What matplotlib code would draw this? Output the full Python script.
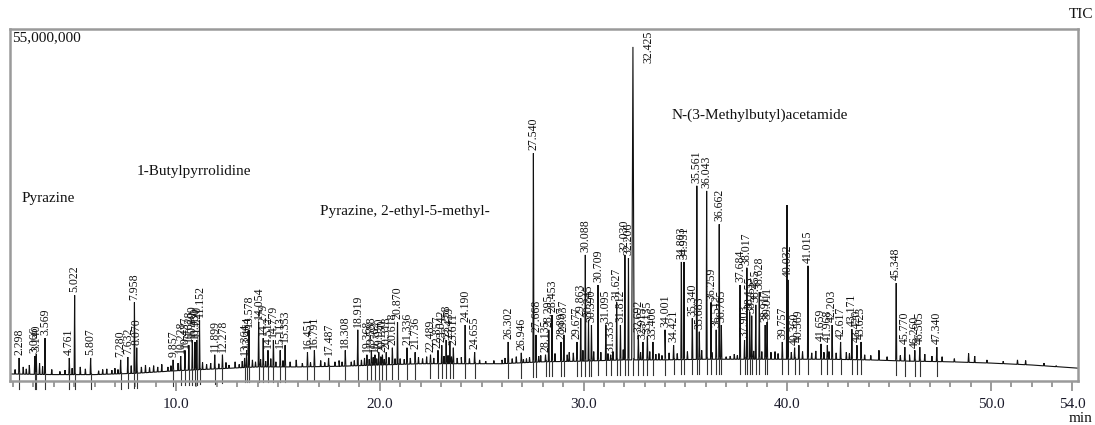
import numpy as np
import matplotlib
matplotlib.use("Agg")
import matplotlib.pyplot as plt

plt.rcParams['font.family'] = ['Liberation Serif', 'DejaVu Serif']

# ---------------- data (signal in millions of counts) ----------------
base_t = [1.85, 4, 6, 8, 10, 12, 14, 16, 18, 20, 22, 24, 26, 28, 30, 32, 34,
          36, 38, 40, 42, 44, 46, 48, 50, 52, 54.3]
base_val = [1.1, 1.0, 1.0, 1.2, 1.6, 1.9, 2.2, 2.2, 2.3, 2.5, 2.7, 2.7, 2.7,
            3.0, 3.1, 3.3, 3.3, 3.4, 3.4, 3.4, 3.4, 3.3, 3.1, 3.0, 2.8, 2.5, 2.0]

peak_rt = [2.298, 3.066, 3.140, 3.569, 4.761, 5.022, 5.807, 7.280, 7.632, 7.958,
           8.070, 9.857, 10.228, 10.437, 10.628, 10.800, 10.930, 11.020, 11.152,
           11.899, 12.278, 13.364, 13.464, 13.578, 14.054, 14.279, 14.512, 14.779,
           15.113, 15.353, 16.451, 16.791, 17.487, 18.308, 18.919, 19.368, 19.588,
           19.762, 19.950, 20.130, 20.318, 20.618, 20.870, 21.336, 21.736, 22.489,
           22.857, 23.042, 23.258, 23.439, 23.611, 24.190, 24.655, 26.302, 26.946,
           27.540, 27.668, 28.135, 28.295, 28.453, 28.897, 29.037, 29.677, 29.863,
           30.088, 30.245, 30.390, 30.709, 31.095, 31.333, 31.627, 31.812, 32.030,
           32.206, 32.425, 32.692, 32.915, 33.135, 33.406, 34.001, 34.421, 34.803,
           34.931, 35.340, 35.561, 35.683, 36.043, 36.259, 36.512, 36.662, 36.765,
           37.684, 37.903, 38.017, 38.155, 38.255, 38.455, 38.628, 38.917, 39.011,
           39.757, 40.032, 40.360, 40.569, 41.015, 41.659, 41.968, 42.203, 42.617,
           43.171, 43.420, 43.623, 45.348, 45.770, 46.260, 46.505, 47.340]
peak_h = [3.6, 3.9, 4.2, 6.7, 3.6, 13.4, 3.6, 3.3, 3.75, 12.3,
          5.2, 3.3, 3.9, 4.8, 5.6, 6.4, 6.1, 6.4, 9.5,
          4.1, 4.1, 3.6, 4.8, 8.0, 9.2, 6.7, 4.8, 6.4,
          4.8, 5.6, 4.5, 4.8, 3.6, 4.8, 8.0, 4.1, 4.8,
          4.1, 4.5, 4.1, 4.5, 5.2, 9.2, 5.2, 4.5, 4.1,
          4.8, 5.6, 6.4, 6.1, 5.2, 8.75, 4.5, 6.1, 4.4,
          35.6, 7.2, 4.1, 8.0, 10.3, 6.1, 7.2, 6.1, 9.8,
          19.7, 9.5, 8.75, 15.0, 8.75, 4.1, 12.3, 8.75, 19.7,
          19.2, 52.2, 7.2, 6.1, 7.0, 6.1, 8.0, 5.6, 18.6,
          18.6, 9.8, 30.5, 7.7, 29.7, 12.3, 8.0, 24.5, 8.75,
          15.0, 6.4, 17.7, 10.8, 10.2, 11.9, 13.9, 8.75, 9.2,
          6.1, 15.8, 5.2, 5.6, 18.0, 5.8, 5.6, 8.75, 6.1,
          8.1, 5.6, 6.1, 15.3, 5.3, 4.8, 5.3, 5.3]

# unlabeled peaks / baseline bumps
minor_rt = [2.1, 2.5, 2.65, 2.8, 3.3, 3.45, 3.9, 4.3, 4.55, 4.9, 5.3, 5.55, 6.2,
            6.4, 6.6, 6.85, 7.0, 7.15, 7.8, 8.3, 8.5, 8.7, 8.9, 9.1, 9.3, 9.6,
            9.75, 10.1, 11.3, 11.5, 11.7, 12.1, 12.45, 12.6, 12.9, 13.1, 13.25,
            13.75, 13.9, 14.15, 14.4, 14.65, 14.9, 15.25, 15.6, 15.9, 16.2, 16.6,
            17.1, 17.3, 17.8, 18.0, 18.15, 18.6, 18.75, 19.1, 19.25, 19.48, 19.68,
            19.85, 20.05, 20.22, 20.45, 20.75, 21.0, 21.2, 21.5, 21.9, 22.1, 22.3,
            22.65, 23.15, 23.35, 23.52, 23.8, 24.0, 24.4, 24.9, 25.2, 25.6, 26.0,
            26.15, 26.5, 26.7, 27.05, 27.2, 27.35, 27.8, 27.9, 28.6, 29.2, 29.3,
            29.5, 29.97, 30.5, 30.85, 31.2, 31.45, 31.95, 32.8, 33.25, 33.55, 33.7,
            33.85, 34.2, 34.6, 35.1, 35.8, 36.3, 37.0, 37.2, 37.4, 37.55, 38.35,
            38.75, 39.2, 39.4, 39.55, 39.985, 40.2, 40.75, 41.2, 41.4, 41.8, 42.05,
            42.4, 42.9, 43.05, 43.8, 44.1, 44.5, 44.9, 45.55, 46.0, 46.75, 47.1,
            47.6, 48.2, 48.9, 49.2, 49.8, 50.6, 51.3, 51.7, 52.6, 53.2]
minor_h = [1.8, 2.2, 1.9, 2.5, 2.8, 2.3, 1.8, 1.5, 1.7, 2.0, 2.2, 1.9, 1.6,
           1.8, 1.9, 1.7, 2.0, 1.8, 2.4, 2.2, 2.5, 2.1, 2.4, 2.2, 2.6, 2.2,
           2.4, 2.8, 2.9, 2.6, 2.8, 2.7, 2.9, 2.5, 3.0, 2.6, 3.1,
           3.3, 3.0, 3.4, 3.1, 3.5, 3.0, 3.2, 3.0, 3.3, 2.8, 2.9,
           3.2, 2.9, 3.0, 3.2, 3.0, 3.0, 3.2, 3.3, 3.6, 3.4, 3.7,
           3.5, 3.8, 3.4, 3.7, 3.5, 3.5, 3.4, 3.6, 3.7, 3.5, 3.8,
           3.6, 3.9, 4.0, 3.8, 3.6, 3.7, 3.5, 3.3, 3.1, 3.2, 3.3,
           3.6, 3.5, 3.8, 3.4, 3.5, 3.7, 3.9, 4.0, 4.3, 4.1, 4.5,
           4.4, 4.8, 4.6, 4.5, 4.3, 4.6, 4.9, 4.5, 4.6, 4.2, 4.3,
           4.0, 4.4, 4.3, 4.6, 4.8, 4.5, 3.8, 3.9, 4.2, 4.0, 4.7,
           4.6, 4.5, 4.6, 4.3, 27.5, 4.5, 4.6, 4.4, 4.7, 4.5, 4.6,
           4.4, 4.5, 4.3, 4.1, 4.0, 4.8, 3.8, 4.0, 4.1, 4.2, 3.9,
           3.8, 3.5, 4.3, 3.9, 3.3, 3.1, 3.3, 3.2, 2.8, 2.4]

annotations = ["Pyrazine", "1-Butylpyrrolidine", "Pyrazine, 2-ethyl-5-methyl-",
               "N-(3-Methylbutyl)acetamide"]
annot_pos = [(22, 198), (137, 172), (320, 212), (672, 115)]  # pixel positions

major_ticks = [10.0, 20.0, 30.0, 40.0, 50.0, 54.0]

# ---------------- build trace ----------------
W, H = 1095, 425
fig = plt.figure(figsize=(W / 100, H / 100), dpi=100)
ax = fig.add_axes([10 / W, (H - 381) / H, 1068 / W, 352 / H])
xmin, xmax = 1.85, 54.27
ax.set_xlim(xmin, xmax)
ax.set_ylim(0, 55)

pts = list(zip(base_t, base_val))
all_rt = peak_rt + minor_rt
all_h = peak_h + minor_h
for t, h in zip(all_rt, all_h):
    w = 0.06 if h > 45 else 0.025
    b = float(np.interp(t, base_t, base_val))
    pts += [(t - w, b), (t, h), (t + w, b)]
pts.sort(key=lambda p: p[0])
tx = [p[0] for p in pts]
ty = [p[1] for p in pts]
ax.plot(tx, ty, color='#111111', lw=0.8, solid_joinstyle='miter')

# integration markers below baseline
for t in peak_rt:
    b = float(np.interp(t, base_t, base_val))
    ax.plot([t, t], [b + 0.3, b - 2.3], color='#333333', lw=0.8, clip_on=False)

# peak labels
for t, h in zip(peak_rt, peak_h):
    if h > 45:
        ax.annotate(f"{t:.3f}", xy=(t + 0.78, 55), xytext=(0, -1),
                    textcoords='offset points', rotation=90, ha='center',
                    va='top', fontsize=8.5, color='#111111')
    else:
        ax.annotate(f"{t:.3f}", xy=(t, h), xytext=(0, 2),
                    textcoords='offset points', rotation=90, ha='center',
                    va='bottom', fontsize=8.5, color='#111111')

# compound annotations
for txt, (px, py) in zip(annotations, annot_pos):
    fig.text(px / W, (H - py) / H, txt, ha='left', va='center', fontsize=11,
             color='#111111')

# axes styling
for s in ['left', 'top', 'right', 'bottom']:
    ax.spines[s].set_color('#9a9a9a')
    ax.spines[s].set_linewidth(1.8)
ax.set_yticks([])
ax.set_xticks(major_ticks)
ax.set_xticklabels([f"{v:.1f}" for v in major_ticks], fontsize=11, color='#1a1a2a')
ax.set_xticks(np.arange(2, 55, 1), minor=True)
ax.tick_params(axis='x', which='major', length=7, width=1.2, color='#8a8a8a',
               direction='out', pad=5)
ax.tick_params(axis='x', which='minor', length=4, width=1.2, color='#8a8a8a',
               direction='out')

ax.text(0.002, 0.995, "55,000,000", transform=ax.transAxes, ha='left', va='top',
        fontsize=11, color='#111111')
fig.text(1093 / W, (H - 14) / H, "TIC", ha='right', va='center', fontsize=11,
         color='#111111')
fig.text(1093 / W, (H - 418) / H, "min", ha='right', va='center', fontsize=11,
         color='#111111')

fig.savefig("out.png", dpi=100)
